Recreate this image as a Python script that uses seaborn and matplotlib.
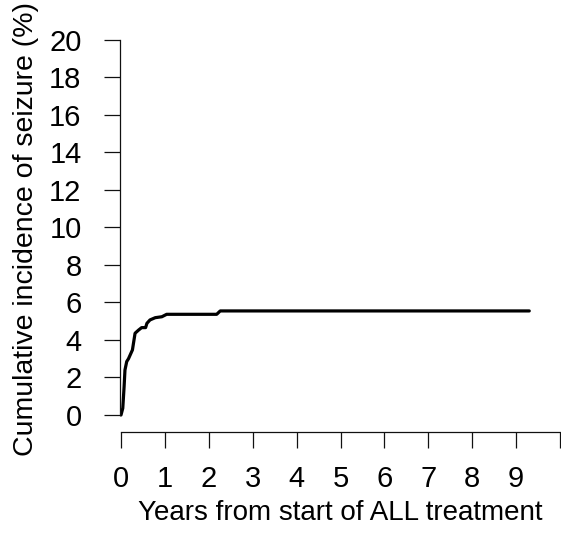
import matplotlib
matplotlib.use("Agg")
import matplotlib.pyplot as plt
import numpy as np
import pandas as pd
import seaborn as sns

# cumulative incidence curve
years = [0.0, 0.04, 0.07, 0.09, 0.13, 0.17, 0.26, 0.32, 0.40, 0.47, 0.56,
         0.59, 0.66, 0.78, 0.93, 1.04, 2.18, 2.26, 9.30]
incidence = [0.0, 0.36, 1.5, 2.4, 2.85, 3.0, 3.47, 4.36, 4.53, 4.66, 4.66,
             4.89, 5.07, 5.19, 5.24, 5.37, 5.37, 5.55, 5.55]
x_ticks = list(range(0, 11))
x_labels = [str(i) for i in range(0, 10)] + [""]
y_ticks = list(range(0, 21, 2))

df = pd.DataFrame({"years": years, "incidence": incidence})

sns.set_style("ticks")
plt.rcParams["font.family"] = ["Liberation Sans", "DejaVu Sans"]
plt.rcParams["text.color"] = "black"
plt.rcParams["axes.labelcolor"] = "black"
plt.rcParams["xtick.color"] = "black"
plt.rcParams["ytick.color"] = "black"

fig = plt.figure(figsize=(5.61, 5.35), dpi=100)
ax = fig.add_axes([119.7 / 561, (535 - 432) / 535, (561.3 - 119.7) / 561, (432 - 25) / 535])

sns.lineplot(data=df, x="years", y="incidence", color="black", linewidth=2.3,
             ax=ax, estimator=None, sort=False)

ax.set_xlim(-0.03, 10.03)
ax.set_ylim(-0.907, 20.8)
ax.set_xticks(x_ticks)
ax.set_xticklabels(x_labels)
ax.set_yticks(y_ticks)
for s in ["top", "right"]:
    ax.spines[s].set_visible(False)
ax.spines["left"].set_bounds(0, 20)
ax.spines["bottom"].set_bounds(0, 10)
for s in ["left", "bottom"]:
    ax.spines[s].set_linewidth(0.9)
    ax.spines[s].set_color("#111111")
ax.tick_params(axis="both", labelsize=21, length=11.5, width=0.9, color="#111111")
ax.tick_params(axis="y", pad=16)
ax.tick_params(axis="x", pad=12)
ax.set_xlabel("Years from start of ALL treatment", fontsize=20, labelpad=5)
ax.set_ylabel("Cumulative incidence of seizure (%)", fontsize=20.5, labelpad=7)

fig.savefig("out.png", dpi=100)
